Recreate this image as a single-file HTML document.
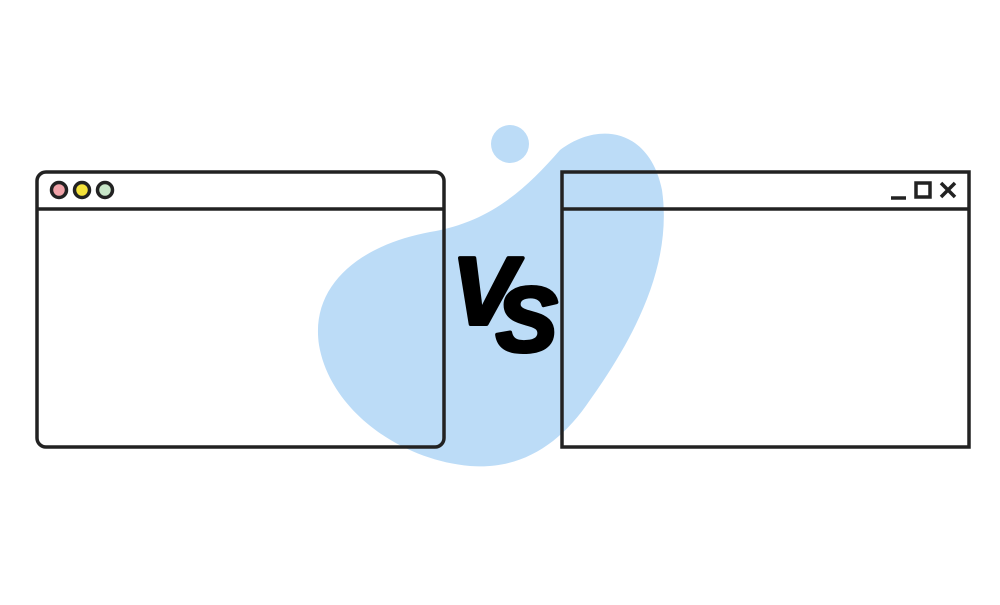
<!DOCTYPE html>
<html><head><style>body{margin:0;background:#fff}</style></head><body>
<svg width="1000" height="600" viewBox="0 0 1000 600" xmlns="http://www.w3.org/2000/svg">
<rect width="1000" height="600" fill="#fff"/>
<circle cx="510" cy="144" r="19" fill="#bcdcf7"/>
<path d="M560 150 C600 120 650 130 662 190 C672 260 640 330 590 400 C560 445 520 470 470 466 C400 460 330 410 319 345 C310 285 360 245 430 232 C490 222 525 190 560 150 Z" fill="#bcdcf7"/>
<g fill="none" stroke="#222" stroke-width="3.5">
<rect x="37" y="172" width="407" height="275" rx="9"/>
<line x1="37" y1="209" x2="444" y2="209"/>
<rect x="562" y="172" width="407" height="275"/>
<line x1="562" y1="209" x2="969" y2="209"/>
</g>
<g stroke="#222" stroke-width="3.5">
<circle cx="59" cy="190" r="7.5" fill="#f0a2a8"/>
<circle cx="82" cy="190" r="7.5" fill="#f4e23a"/>
<circle cx="105" cy="190" r="7.5" fill="#c8e6c8"/>
</g>
<g stroke="#222" stroke-width="3.5" fill="none">
<line x1="891" y1="198" x2="906" y2="198"/>
<rect x="916" y="183" width="14" height="14"/>
<line x1="941" y1="183" x2="955" y2="197"/>
<line x1="955" y1="183" x2="941" y2="197"/>
</g>
<g font-family="Liberation Sans, sans-serif" font-weight="bold" font-style="italic" fill="#000" stroke="#000" stroke-width="4" stroke-linejoin="round">
<text x="452" y="324" font-size="96">V</text>
<text x="496" y="351" font-size="92">S</text>
</g>
</svg>
</body></html>
